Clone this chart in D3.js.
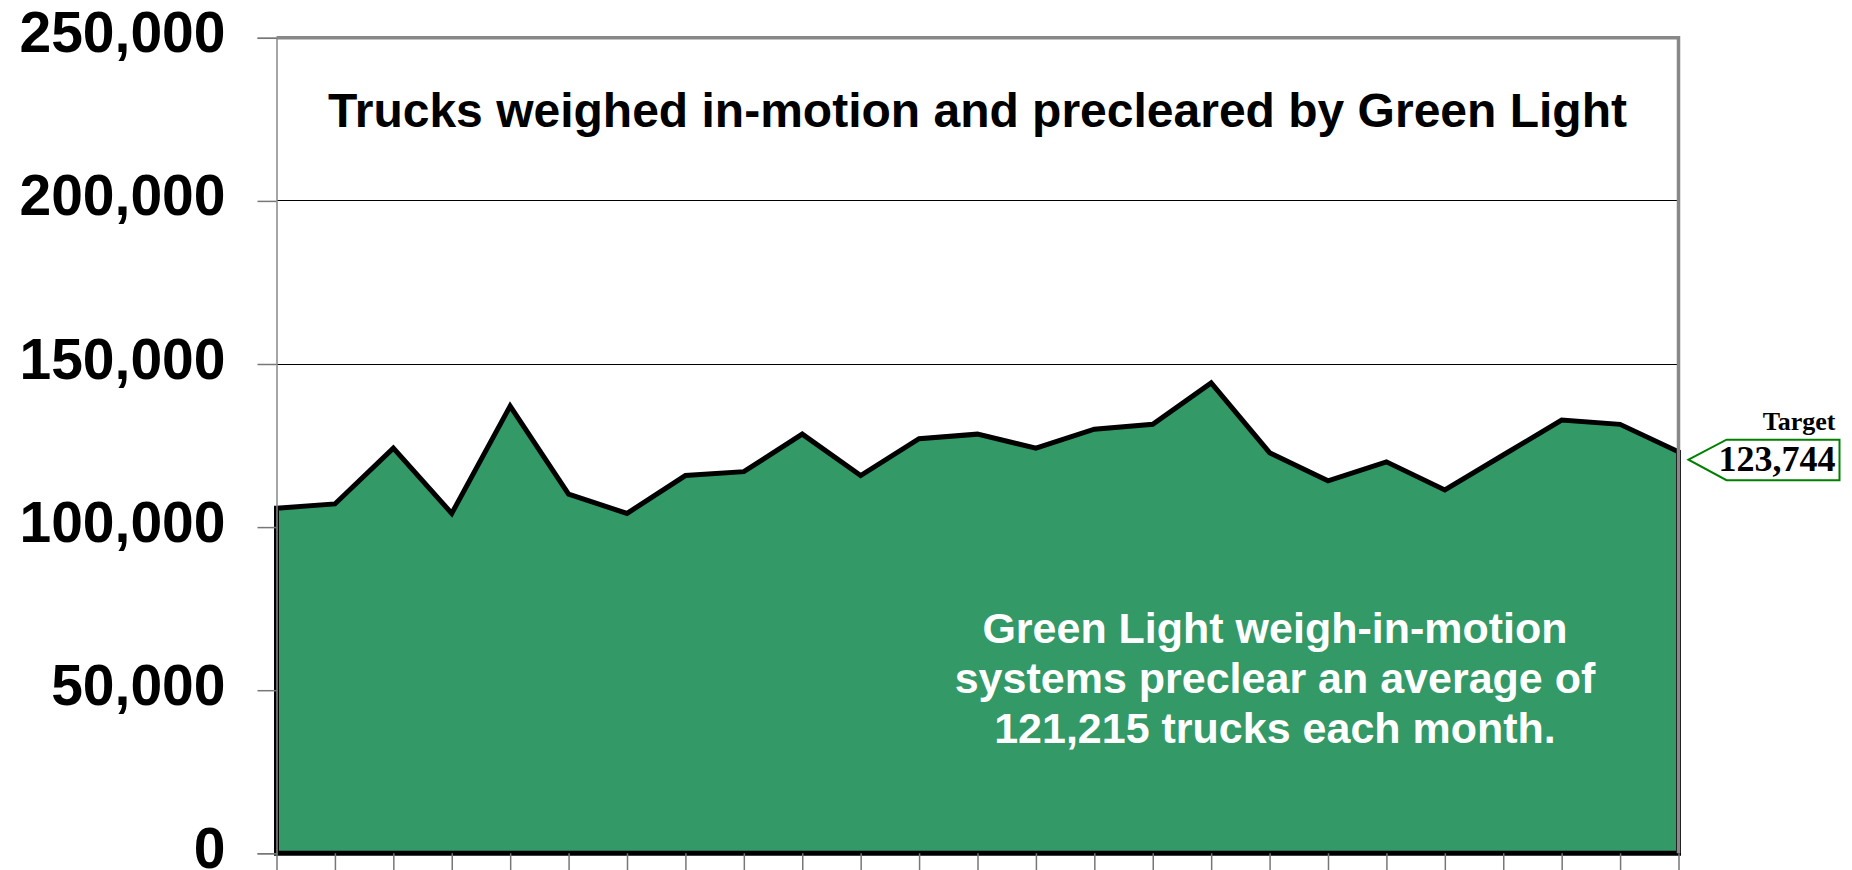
<!DOCTYPE html>
<html>
<head>
<meta charset="utf-8">
<script src="https://cdn.jsdelivr.net/npm/d3@7"></script>
<style>
  body { margin: 0; background: #fff; }
  svg { display: block; }
</style>
</head>
<body>
<svg id="chart" width="1852" height="870"></svg>
<script>
// monthly counts (x axis carries no labels)
var months = d3.range(1, 26).map(function(i){ return "M" + i; });
var trucks = [105800, 107100, 124200, 104200, 137100, 110100, 104200, 115800, 117000,
              128500, 115800, 127100, 128500, 124200, 130000, 131500, 144200, 122800,
              114200, 120000, 111400, 122100, 132800, 131500, 123100];
var yTicks = [0, 50000, 100000, 150000, 200000, 250000];
var target = 123744;
var titleText = "Trucks weighed in-motion and precleared by Green Light";
var noteLines = ["Green Light weigh-in-motion",
                 "systems preclear an average of",
                 "121,215 trucks each month."];

var svg = d3.select("#chart");
var plotL = 276.5, plotR = 1678.5, plotT = 37.8, plotB = 853.3;

var x = d3.scalePoint().domain(months).range([plotL, plotR]);
var y = d3.scaleLinear().domain([0, 250000]).range([plotB, plotT]);
var fmt = d3.format(",");

// gridlines
svg.append("g")
  .selectAll("line")
  .data(yTicks.slice(1))
  .enter().append("line")
    .attr("x1", plotL).attr("x2", plotR)
    .attr("y1", function(d){ return y(d); })
    .attr("y2", function(d){ return y(d); })
    .attr("stroke", "#000")
    .attr("stroke-width", 1)
    .attr("shape-rendering", "crispEdges");

// area
var data = months.map(function(m, i){ return { m: m, v: trucks[i] }; });
var area = d3.area()
  .x(function(d){ return x(d.m); })
  .y0(y(0))
  .y1(function(d){ return y(d.v); });

svg.append("path")
  .datum(data)
  .attr("d", function(d){ return area(d) + "Z"; })
  .attr("fill", "#339966")
  .attr("stroke", "#000")
  .attr("stroke-width", 5)
  .attr("stroke-linejoin", "miter");

// plot border, top and right
svg.append("path")
  .attr("d", "M" + plotL + "," + plotT + "H" + plotR + "V" + plotB)
  .attr("fill", "none")
  .attr("stroke", "#888")
  .attr("stroke-width", 3.5);

// y axis
var yAxis = svg.append("g")
  .attr("transform", "translate(" + plotL + ",0)")
  .call(d3.axisLeft(y).tickValues(yTicks).tickSize(19).tickPadding(32).tickFormat(fmt));
yAxis.select(".domain").attr("stroke", "#888").attr("stroke-width", 1.5);
yAxis.selectAll(".tick line").attr("stroke", "#777").attr("stroke-width", 1.5);
yAxis.selectAll(".tick text")
  .attr("fill", "#000")
  .attr("dy", 14)
  .style("font", "bold 57px 'Liberation Sans', Arial, sans-serif");

// x axis, ticks only
var xAxis = svg.append("g")
  .attr("transform", "translate(0," + plotB + ")")
  .call(d3.axisBottom(x).tickSize(18).tickFormat(""));
xAxis.select(".domain").remove();
xAxis.selectAll(".tick line").attr("stroke", "#777").attr("stroke-width", 1.5);

// title
svg.append("text")
  .attr("x", (plotL + plotR) / 2)
  .attr("y", 127)
  .attr("text-anchor", "middle")
  .style("font", "bold 48px 'Liberation Sans', Arial, sans-serif")
  .text(titleText);

// note inside the area
svg.append("g")
  .selectAll("text")
  .data(noteLines)
  .enter().append("text")
    .attr("x", 1275)
    .attr("y", function(d, i){ return 643 + i * 50; })
    .attr("text-anchor", "middle")
    .attr("fill", "#fff")
    .style("font", "bold 43px 'Liberation Sans', Arial, sans-serif")
    .text(function(d){ return d; });

// target callout
var ty = y(target) + 10;
var tipX = plotR + 10, boxL = plotR + 48, boxR = plotR + 161;
svg.append("path")
  .attr("d", "M" + tipX + "," + ty + "L" + boxL + "," + (ty - 20) + "H" + boxR +
             "V" + (ty + 20.5) + "H" + boxL + "Z")
  .attr("fill", "#fff")
  .attr("stroke", "#008000")
  .attr("stroke-width", 2);
svg.append("text")
  .attr("x", boxR - 4).attr("y", ty + 11.5)
  .attr("text-anchor", "end")
  .style("font", "bold 36px 'Liberation Serif', 'Times New Roman', serif")
  .text(fmt(target));
svg.append("text")
  .attr("x", boxR - 4).attr("y", ty - 30)
  .attr("text-anchor", "end")
  .style("font", "bold 26px 'Liberation Serif', 'Times New Roman', serif")
  .text("Target");
</script>
</body>
</html>
